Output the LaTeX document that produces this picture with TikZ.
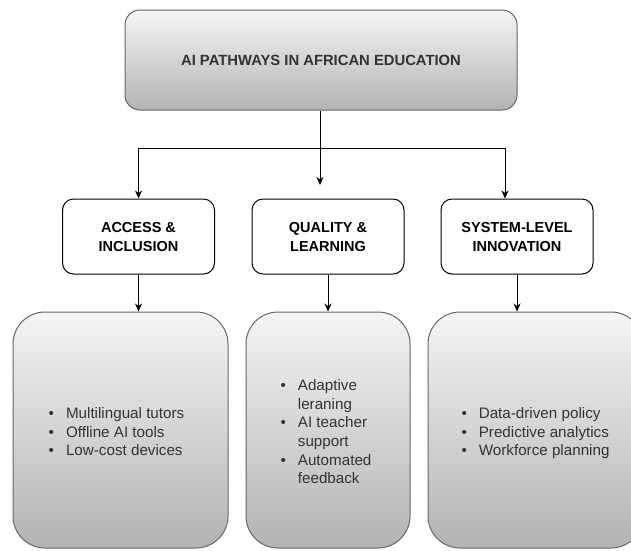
\documentclass[tikz,border=0pt]{standalone}
\usepackage{fontspec}
\setmainfont{Liberation Sans}
\usetikzlibrary{arrows.meta}
\definecolor{boxtop}{HTML}{F5F5F5}
\definecolor{boxbot}{HTML}{B3B3B3}
\definecolor{boxline}{HTML}{666666}
\definecolor{boxtext}{HTML}{333333}
\begin{document}
\begin{tikzpicture}[x=1pt, y=-1pt, line width=1pt,
  graybox/.style={draw=boxline, top color=boxtop, bottom color=boxbot, text=boxtext, inner sep=0pt},
  headbox/.style={draw, fill=white, rounded corners=11pt, minimum width=152pt, minimum height=75pt,
    align=center, font=\bfseries\fontsize{14.5}{19}\selectfont},
  listtext/.style={text=boxtext, inner sep=0pt, font=\fontsize{15.2}{18.6}\selectfont},
  arr/.style={-{Stealth[length=8pt, width=7pt, inset=2.5pt]}}]

 \useasboundingbox (0,0) rectangle (631,550);
 \clip (0,0) rectangle (631,550);

 % top
 \node[graybox, rounded corners=15pt, minimum width=392pt, minimum height=100pt,
   font=\bfseries\fontsize{14.8}{18}\selectfont] (main) at (321,60) {AI PATHWAYS IN AFRICAN EDUCATION};

 % level 2
 \foreach \n/\x/\a/\b in {access/138.5/ACCESS \&/INCLUSION, quality/328/QUALITY \&/LEARNING,
     system/517/SYSTEM-LEVEL/INNOVATION} {
   \node[headbox] (\n) at (\x,236.5) {\a\\\b};
 }

 % level 3
 \foreach \n/\x/\w in {accbox/120.5/215, qualbox/328/164, sysbox/535.5/215}
   \node[graybox, rounded corners=32pt, minimum width=\w pt, minimum height=236pt] (\n) at (\x,430) {};

 \node[listtext] (acctext) at ([shift={(-4,3.5)}]accbox.center)
   {\begin{tabular}{@{}l@{\hspace{12pt}}l@{}}
     • & Multilingual tutors\\
     • & Offline AI tools\\
     • & Low-cost devices
   \end{tabular}};
 \node[listtext] (qualtext) at ([shift={(-2,3.5)}]qualbox.center)
   {\begin{tabular}{@{}l@{\hspace{12pt}}l@{}}
     • & Adaptive\\
       & leraning\\
     • & AI teacher\\
       & support\\
     • & Automated\\
       & feedback
   \end{tabular}};
 \node[listtext] (systext) at ([shift={(0,3.5)}]sysbox.center)
   {\begin{tabular}{@{}l@{\hspace{12pt}}l@{}}
     • & Data-driven policy\\
     • & Predictive analytics\\
     • & Workforce planning
   \end{tabular}};

 % lines
 \coordinate (hubL) at (138.5,148);
 \coordinate (hubR) at (505,148);
 \coordinate (qtip) at (320,185);
 \draw[arr] (main.south -| qtip) -- (qtip);
 \draw (hubL) -- (hubR);
 \draw[arr] (hubL) -- (hubL |- access.north);
 \draw[arr] (hubR) -- (hubR |- system.north);

 \foreach \source/\dest in {access/accbox, quality/qualbox, system/sysbox}
   \draw[arr] (\source.south) -- (\source.south |- \dest.north);

\end{tikzpicture}
\end{document}
